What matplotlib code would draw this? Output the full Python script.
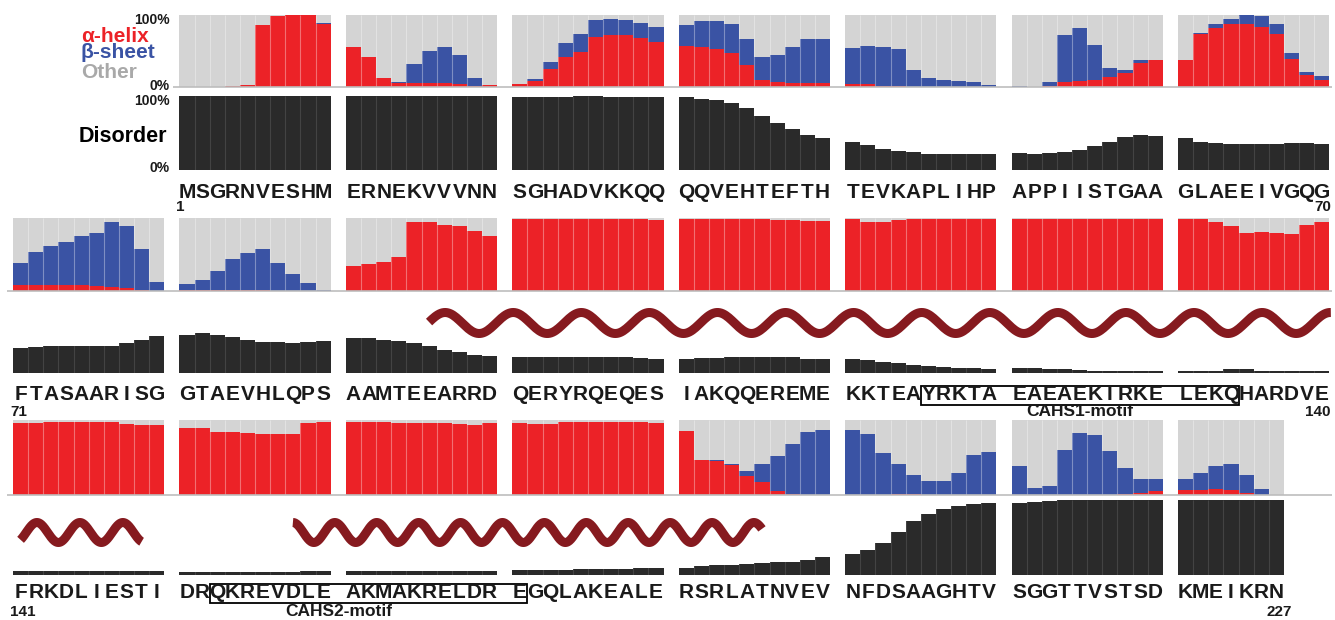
import numpy as np
import matplotlib
matplotlib.use("Agg")
import matplotlib.pyplot as plt
from matplotlib.patches import Rectangle
from matplotlib.transforms import blended_transform_factory

plt.rcParams['font.family'] = ['Liberation Sans', 'DejaVu Sans']
plt.rcParams['font.weight'] = 'bold'

W, H = 1335, 620

sequence = (
    "MSGRNVESHM" "ERNEKVVVNN" "SGHADVKKQQ" "QQVEHTEFTH" "TEVKAPLIHP" "APPIISTGAA" "GLAEEIVGQG"
    "FTASAARISG" "GTAEVHLQPS" "AAMTEEARRD" "QERYRQEQES" "IAKQQEREME" "KKTEAYRKTA" "EAEAEKIRKE" "LEKQHARDVE"
    "FRKDLIESTI" "DRQKREVDLE" "AKMAKRELDR" "EGQLAKEALE" "RSRLATNVEV" "NFDSAAGHTV" "SGGTTVSTSD" "KMEIKRN"
)

# fraction of predictions per residue
helix = [
    0, 0, 0, 0.01, 0.03, 0.86, 0.985, 1.0, 1.0, 0.875,
    0.55, 0.42, 0.12, 0.055, 0.055, 0.055, 0.055, 0.04, 0.02, 0.03,
    0.046, 0.09, 0.25, 0.41, 0.49, 0.69, 0.72, 0.72, 0.68, 0.63,
    0.576, 0.55, 0.525, 0.47, 0.31, 0.10, 0.07, 0.055, 0.055, 0.055,
    0.046, 0.04, 0.02, 0.01, 0.005, 0, 0, 0, 0, 0,
    0, 0, 0.02, 0.065, 0.09, 0.10, 0.14, 0.20, 0.34, 0.37,
    0.38, 0.73, 0.815, 0.875, 0.875, 0.83, 0.73, 0.39, 0.17, 0.10,
    0.08, 0.08, 0.08, 0.08, 0.08, 0.07, 0.055, 0.037, 0.02, 0,
    0.01, 0.01, 0.01, 0.01, 0.01, 0.01, 0.005, 0.005, 0, 0,
    0.34, 0.37, 0.40, 0.47, 0.945, 0.945, 0.91, 0.89, 0.82, 0.75,
    0.99, 0.99, 0.99, 0.99, 0.99, 0.99, 0.99, 0.99, 0.985, 0.977,
    0.99, 0.99, 0.99, 0.99, 0.98, 0.98, 0.975, 0.97, 0.96, 0.955,
    0.99, 0.95, 0.94, 0.97, 0.99, 0.99, 0.99, 0.99, 0.99, 0.99,
    0.99, 0.99, 0.99, 0.99, 0.99, 0.99, 0.99, 0.99, 0.99, 0.99,
    0.99, 0.98, 0.95, 0.885, 0.80, 0.815, 0.80, 0.775, 0.91, 0.95,
    0.965, 0.965, 0.98, 0.98, 0.98, 0.98, 0.97, 0.95, 0.94, 0.93,
    0.90, 0.89, 0.84, 0.84, 0.83, 0.82, 0.82, 0.82, 0.96, 0.98,
    0.98, 0.98, 0.97, 0.965, 0.96, 0.96, 0.96, 0.95, 0.93, 0.96,
    0.96, 0.95, 0.95, 0.97, 0.97, 0.98, 0.98, 0.98, 0.98, 0.965,
    0.85, 0.47, 0.458, 0.40, 0.25, 0.18, 0.05, 0.02, 0, 0,
    0, 0, 0, 0.01, 0.01, 0, 0, 0, 0, 0,
    0, 0, 0, 0, 0, 0, 0, 0.013, 0.03, 0.05,
    0.067, 0.067, 0.08, 0.067, 0.03, 0, 0,
]
sheet = [
    0, 0, 0, 0, 0, 0, 0, 0, 0, 0.01,
    0, 0, 0, 0.01, 0.265, 0.445, 0.495, 0.41, 0.10, 0,
    0, 0.015, 0.10, 0.20, 0.24, 0.24, 0.22, 0.21, 0.205, 0.21,
    0.284, 0.36, 0.395, 0.405, 0.35, 0.31, 0.38, 0.495, 0.605, 0.605,
    0.494, 0.536, 0.53, 0.515, 0.235, 0.124, 0.10, 0.09, 0.065, 0.03,
    0.015, 0.005, 0.045, 0.655, 0.725, 0.49, 0.12, 0.03, 0.03, 0.01,
    0, 0.025, 0.06, 0.075, 0.125, 0.155, 0.145, 0.08, 0.037, 0.047,
    0.31, 0.46, 0.53, 0.59, 0.68, 0.73, 0.885, 0.848, 0.55, 0.13,
    0.08, 0.14, 0.265, 0.43, 0.51, 0.56, 0.385, 0.225, 0.105, 0.01,
    0, 0, 0, 0, 0, 0, 0, 0, 0, 0,
    0, 0, 0, 0, 0, 0, 0, 0, 0, 0,
    0, 0, 0, 0, 0, 0, 0, 0, 0, 0,
    0, 0, 0, 0, 0, 0, 0, 0, 0, 0,
    0, 0, 0, 0, 0, 0, 0, 0, 0, 0,
    0, 0, 0, 0, 0, 0, 0, 0, 0, 0,
    0, 0, 0, 0, 0, 0, 0, 0, 0, 0,
    0, 0, 0, 0, 0, 0, 0, 0, 0, 0,
    0, 0, 0, 0, 0, 0, 0, 0, 0, 0,
    0, 0, 0, 0, 0, 0, 0, 0, 0, 0,
    0, 0, 0.005, 0.02, 0.07, 0.24, 0.47, 0.66, 0.84, 0.87,
    0.87, 0.81, 0.56, 0.40, 0.26, 0.19, 0.19, 0.29, 0.54, 0.58,
    0.39, 0.09, 0.125, 0.60, 0.83, 0.80, 0.59, 0.347, 0.19, 0.16,
    0.153, 0.223, 0.31, 0.343, 0.24, 0.08, 0,
]
disorder = [
    0.995, 0.995, 0.995, 0.995, 0.995, 1.0, 1.0, 1.0, 1.0, 1.0,
    0.995, 0.995, 0.995, 0.995, 0.995, 0.995, 0.995, 0.995, 0.995, 0.995,
    0.99, 0.99, 0.99, 0.99, 1.0, 1.0, 0.98, 0.98, 0.98, 0.98,
    0.98, 0.96, 0.94, 0.90, 0.84, 0.73, 0.64, 0.55, 0.47, 0.43,
    0.38, 0.34, 0.29, 0.26, 0.24, 0.22, 0.22, 0.22, 0.22, 0.22,
    0.225, 0.216, 0.23, 0.25, 0.27, 0.33, 0.38, 0.45, 0.47, 0.46,
    0.43, 0.38, 0.37, 0.35, 0.35, 0.35, 0.35, 0.37, 0.37, 0.35,
    0.34, 0.35, 0.365, 0.365, 0.365, 0.365, 0.365, 0.40, 0.44, 0.50,
    0.52, 0.54, 0.52, 0.48, 0.44, 0.42, 0.42, 0.41, 0.42, 0.43,
    0.47, 0.47, 0.45, 0.43, 0.40, 0.36, 0.315, 0.28, 0.25, 0.23,
    0.21, 0.21, 0.21, 0.21, 0.21, 0.21, 0.21, 0.21, 0.20, 0.19,
    0.19, 0.20, 0.20, 0.215, 0.22, 0.22, 0.22, 0.21, 0.19, 0.19,
    0.19, 0.17, 0.15, 0.13, 0.11, 0.09, 0.085, 0.07, 0.065, 0.06,
    0.07, 0.065, 0.06, 0.055, 0.04, 0.03, 0.03, 0.03, 0.03, 0.03,
    0.03, 0.03, 0.03, 0.05, 0.05, 0.03, 0.03, 0.03, 0.03, 0.03,
    0.05, 0.05, 0.05, 0.05, 0.05, 0.05, 0.05, 0.05, 0.05, 0.05,
    0.04, 0.04, 0.04, 0.04, 0.04, 0.04, 0.04, 0.045, 0.05, 0.055,
    0.05, 0.05, 0.05, 0.05, 0.05, 0.05, 0.05, 0.05, 0.05, 0.05,
    0.065, 0.065, 0.065, 0.065, 0.075, 0.075, 0.075, 0.08, 0.09, 0.10,
    0.10, 0.12, 0.13, 0.14, 0.15, 0.16, 0.17, 0.18, 0.20, 0.245,
    0.275, 0.34, 0.43, 0.58, 0.72, 0.82, 0.88, 0.925, 0.95, 0.965,
    0.965, 0.98, 0.99, 1.0, 1.0, 1.0, 1.0, 1.0, 1.0, 1.0,
    1.0, 1.0, 1.0, 1.0, 1.0, 1.0, 1.0,
]

row_first_res = [1, 71, 151]
row_last_res = [70, 150, 227]
row_first_block = [1, 0, 0]
row_end_labels = [("1", "70"), ("71", "140"), ("141", "227")]
last_label_ha = ["right", "right", "center"]

# coiled helix drawings: (first residue, last residue, residues per turn, start phase)
coils = [(96, 150.6, 4.5, 0.09), (151, 159, 2.84, -0.82), (168, 196, 2.77, 1.57)]

# boxed motifs: (first residue, last residue, name, label anchor residue)
motifs = [(126, 144, "CAHS1-motif", 135), (163, 181, "CAHS2-motif", 170.5)]

RED, BLUE, GREY = "#ec2227", "#3a53a4", "#d4d4d4"
DARK, COIL = "#2a2a2a", "#861a1f"

# page layout in pixels (top, bottom) for each row
ss_rows = [(15, 87), (218, 291), (420, 495)]
dis_rows = [(96, 170), (299, 373), (500, 575)]
coil_rows = {1: (312.5, 333.5), 2: (522.5, 542.5)}
seq_y = [192, 395, 593]
num_y = [207, 412, 612]
X0, UNIT, NUNITS = 13, 15.13, 87


def res_row(r):
    for i in range(3):
        if row_first_res[i] <= r <= row_last_res[i] + 0.99:
            return i
    return 2


def res_x(r):
    i = res_row(r)
    k = r - row_first_res[i]
    return (row_first_block[i] + k // 10) * 11 + k % 10


def res_xf(r):
    lo = int(np.floor(r))
    hi = min(lo + 1, row_last_res[res_row(lo)])
    if hi == lo:
        return res_x(lo) + (r - lo)
    return res_x(lo) + (r - lo) * (res_x(hi) - res_x(lo))


def px_axes(top, bottom):
    ax = fig.add_axes([X0 / W, 1 - bottom / H, NUNITS * UNIT / W, (bottom - top) / H])
    ax.set_xlim(-0.5, NUNITS - 0.5)
    ax.axis("off")
    return ax


def fy(py):
    return 1 - py / H


fig = plt.figure(figsize=(W / 100, H / 100), dpi=100)

for i in range(3):
    res = np.arange(row_first_res[i], row_last_res[i] + 1)
    xs = np.array([res_x(r) for r in res])
    h = np.array([helix[r - 1] for r in res])
    s = np.array([sheet[r - 1] for r in res])
    d = np.array([disorder[r - 1] for r in res])
    seps = [res_x(r) + 0.5 for r in res[:-1] if (r - row_first_res[i]) % 10 != 9]

    ax = px_axes(*ss_rows[i])
    ax.set_ylim(0, 1)
    ax.bar(xs, np.ones_like(h), width=1, color=GREY, linewidth=0)
    ax.bar(xs, s, bottom=h, width=1, color=BLUE, linewidth=0)
    ax.bar(xs, h, width=1, color=RED, linewidth=0)
    ax.vlines(seps, 0, 1, colors="white", alpha=0.35, lw=0.8)
    ax.hlines(0, xs.min() - 0.9, NUNITS - 0.3, colors="#bdbdbd", lw=1.2, clip_on=False)

    axd = px_axes(*dis_rows[i])
    axd.set_ylim(0, 1)
    axd.bar(xs, d, width=1, color=DARK, linewidth=0)
    axd.vlines(seps, 0, 1, colors="white", alpha=0.12, lw=0.8)

    # sequence letters under each residue
    tr = blended_transform_factory(axd.transData, fig.transFigure)
    for r, x in zip(res, xs):
        axd.text(x, fy(seq_y[i]), sequence[r - 1], transform=tr, ha="center", va="center",
                 fontsize=15, color="#1a1a1a", clip_on=False)
    first, last = row_end_labels[i]
    axd.text(xs[0] - 0.7, fy(num_y[i]), first, transform=tr, ha="left", va="center",
             fontsize=11, color="#1a1a1a")
    xl = xs[-1] + 0.6 if last_label_ha[i] == "right" else xs[-1] + 0.2
    axd.text(xl, fy(num_y[i]), last, transform=tr, ha=last_label_ha[i], va="center",
             fontsize=11, color="#1a1a1a")

    for m0, m1, name, anchor in motifs:
        if res_row(m0) != i:
            continue
        xa, xb = res_x(m0) - 0.5, res_x(m1) + 0.5
        axd.add_patch(Rectangle((xa, fy(seq_y[i] + 9.5)), xb - xa, 19 / H, transform=tr,
                                fill=False, edgecolor="black", lw=1.3, clip_on=False))
        axd.text(res_xf(anchor), fy(num_y[i]), name, transform=tr, ha="center", va="center",
                 fontsize=12.5, color="#1a1a1a")

    if i in coil_rows:
        axc = px_axes(*coil_rows[i])
        axc.set_ylim(-1, 1)
        for c0, c1, turn, phase in coils:
            if res_row(c0) != i:
                continue
            xa, xb = res_x(c0), res_xf(c1)
            cx = np.linspace(xa, xb, 600)
            axc.plot(cx, np.sin(phase + 2 * np.pi * (cx - xa) / turn), color=COIL,
                     lw=6.5, solid_capstyle="butt", clip_on=False)

# legend and axis captions on the first row
fig.text(81 / W, fy(36), "\u03b1-helix", color=RED, fontsize=15, ha="left", va="center")
fig.text(81 / W, fy(53), "\u03b2-sheet", color=BLUE, fontsize=15, ha="left", va="center")
fig.text(81 / W, fy(72), "Other", color="#a9a9a9", fontsize=15, ha="left", va="center")
fig.text(167 / W, fy(137), "Disorder", color="black", fontsize=15.5, ha="right", va="center")
for label, py in [("100%", 20), ("0%", 86), ("100%", 101), ("0%", 168)]:
    fig.text(170 / W, fy(py), label, color="#1a1a1a", fontsize=10, ha="right", va="center")

fig.savefig("out.png", dpi=100, facecolor="white")
